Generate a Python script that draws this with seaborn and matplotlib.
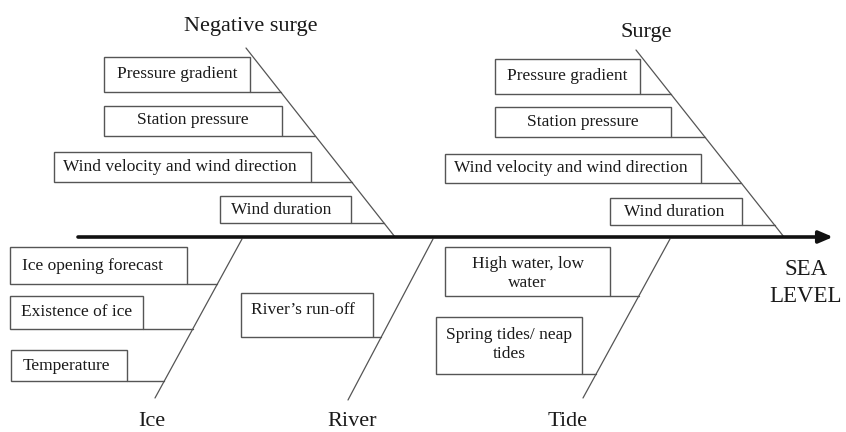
import matplotlib
matplotlib.use("Agg")
import matplotlib.pyplot as plt
import seaborn as sns
from matplotlib.patches import Rectangle

# ---- data (text content) ----
categories = ["Negative surge", "Surge", "Ice", "River", "Tide"]
negative_surge_causes = ["Pressure gradient", "Station pressure",
                         "Wind velocity and wind direction", "Wind duration"]
surge_causes = ["Pressure gradient", "Station pressure",
                "Wind velocity and wind direction", "Wind duration"]
ice_causes = ["Ice opening forecast", "Existence of ice", "Temperature"]
river_causes = ["River\u2019s run-off"]
tide_causes = ["High water, low\nwater", "Spring tides/ neap\ntides"]
effect = "SEA\nLEVEL"

causes = [negative_surge_causes, surge_causes, ice_causes, river_causes, tide_causes]

# ---- layout (pixel-like coordinates, y downward) ----
branch_lines = [((246, 48), (395, 237)),
                ((636, 50), (784, 237)),
                ((242, 239), (155, 398)),
                ((433, 239), (348, 400)),
                ((670, 239), (583, 398))]
label_pos = [(251, 26), (646, 32), (152, 422), (352, 422), (568, 422)]
# boxes: (x_left, x_right, y_top, y_bottom)
boxes = [
    [(104, 250, 57, 92), (104, 282, 106, 136), (54, 311, 152, 182), (220, 351, 196, 223)],
    [(495, 640, 59, 94), (495, 671, 107, 137), (445, 701, 154, 183), (610, 742, 198, 225)],
    [(10, 187, 247, 284), (10, 143, 296, 329), (11, 127, 350, 381)],
    [(241, 373, 293, 337)],
    [(445, 610, 247, 296), (436, 582, 317, 374)],
]
text_dx = [[0, 0, -3, -4], [0, 0, -2, -2], [-6, 0, -3], [-4], [0, 0]]
text_dy = [[-1, -1, 0, 0], [0, 0, 0, 0], [0, 0, 0], [-5], [2, -1]]

sns.set_theme(style="white")
plt.rcParams["font.family"] = ["Liberation Serif", "DejaVu Serif"]

fig = plt.figure(figsize=(8.46, 4.32), dpi=100)
ax = fig.add_axes([0, 0, 1, 1])
ax.set_xlim(0, 846)
ax.set_ylim(432, 0)
ax.axis("off")

line_col = "#555555"
txt_col = "#1a1a1a"

# spine
ax.annotate("", xy=(833, 237), xytext=(78, 237),
            arrowprops=dict(arrowstyle="-|>,head_length=0.7,head_width=0.3",
                            lw=2.6, color="#111111", shrinkA=0, shrinkB=0))
ax.text(806, 283, effect, ha="center", va="center", fontsize=16.5,
        color=txt_col, linespacing=1.42)


def x_on(line, y):
    (x0, y0), (x1, y1) = line
    return x0 + (y - y0) * (x1 - x0) / (y1 - y0)


for cat, line, lp, bxs, labs, dxs, dys in zip(categories, branch_lines, label_pos,
                                             boxes, causes, text_dx, text_dy):
    (x0, y0), (x1, y1) = line
    ax.plot([x0, x1], [y0, y1], color=line_col, lw=0.9)
    ax.text(lp[0], lp[1], cat, ha="center", va="center", fontsize=16, color=txt_col)
    for (xl, xr, yt, yb), lab, dx, dy in zip(bxs, labs, dxs, dys):
        ax.add_patch(Rectangle((xl, yt), xr - xl, yb - yt, fill=False,
                               ec=line_col, lw=1.0))
        ax.plot([xr, x_on(line, yb)], [yb, yb], color=line_col, lw=1.0)
        ax.text((xl + xr) / 2 + dx, (yt + yb) / 2 + dy, lab, ha="center", va="center",
                fontsize=12.5, color=txt_col, linespacing=1.27)

fig.savefig("out.png", dpi=100, facecolor="white")
